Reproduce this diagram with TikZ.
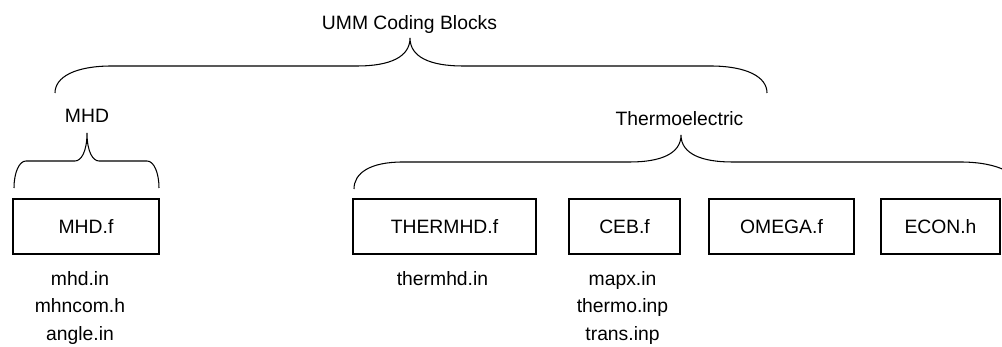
\documentclass[tikz,border=0pt]{standalone}
\usepackage{fontspec}
\setmainfont{Liberation Sans}
\begin{document}
\begin{tikzpicture}[line width=0.6pt,font=\fontsize{11}{15.6}\selectfont,
	file/.style={draw,minimum height=1.1cm,inner sep=0pt},
	list/.style={align=center,anchor=north,inner sep=0pt}]
	\clip (0,0) rectangle (20.04,6.94); %page

	%labels
	\node[anchor=base] (umm) at (8.19,6.35) {UMM Coding Blocks};
	\node[anchor=base] (mhd) at (1.74,4.48) {MHD};
	\node[anchor=base] (thermo) at (13.59,4.42) {Thermoelectric};

	%braces
	\draw (1.10,5.08) .. controls (1.10,5.40) and (1.50,5.62) .. (2.24,5.62) -- (7.14,5.62)
		.. controls (7.80,5.62) and (8.20,5.80) .. (8.20,6.18)
		.. controls (8.20,5.80) and (8.60,5.62) .. (9.26,5.62) -- (14.20,5.62)
		.. controls (14.94,5.62) and (15.34,5.40) .. (15.34,5.08); %UMM brace
	\draw (0.28,3.18) .. controls (0.28,3.48) and (0.38,3.72) .. (0.52,3.72) -- (1.50,3.72)
		.. controls (1.62,3.72) and (1.74,3.90) .. (1.74,4.28)
		.. controls (1.74,3.90) and (1.86,3.72) .. (1.98,3.72) -- (2.94,3.72)
		.. controls (3.08,3.72) and (3.18,3.48) .. (3.18,3.18); %MHD brace
	\draw (7.08,3.16) .. controls (7.08,3.48) and (7.40,3.70) .. (8.06,3.70) -- (12.60,3.70)
		.. controls (13.20,3.70) and (13.62,3.86) .. (13.62,4.24)
		.. controls (13.62,3.86) and (14.04,3.70) .. (14.64,3.70) -- (19.20,3.70)
		.. controls (19.98,3.70) and (20.40,3.45) .. (20.40,3.16); %thermoelectric brace

	%source files
	\node[file,minimum width=2.92cm] (mhdf) at (1.72,2.41) {MHD.f};
	\node[file,minimum width=3.66cm] (thermhdf) at (8.89,2.41) {THERMHD.f};
	\node[file,minimum width=2.22cm] (cebf) at (12.49,2.41) {CEB.f};
	\node[file,minimum width=2.90cm] (omegaf) at (15.63,2.41) {OMEGA.f};
	\node[file,minimum width=2.38cm] (econh) at (18.81,2.41) {ECON.h};

	%input files
	\node[list] (mhdin) at (1.60,1.52) {mhd.in\\mhncom.h\\angle.in};
	\node[list] (thermhdin) at (8.85,1.52) {thermhd.in};
	\node[list] (cebin) at (12.45,1.52) {mapx.in\\thermo.inp\\trans.inp};
\end{tikzpicture}
\end{document}
